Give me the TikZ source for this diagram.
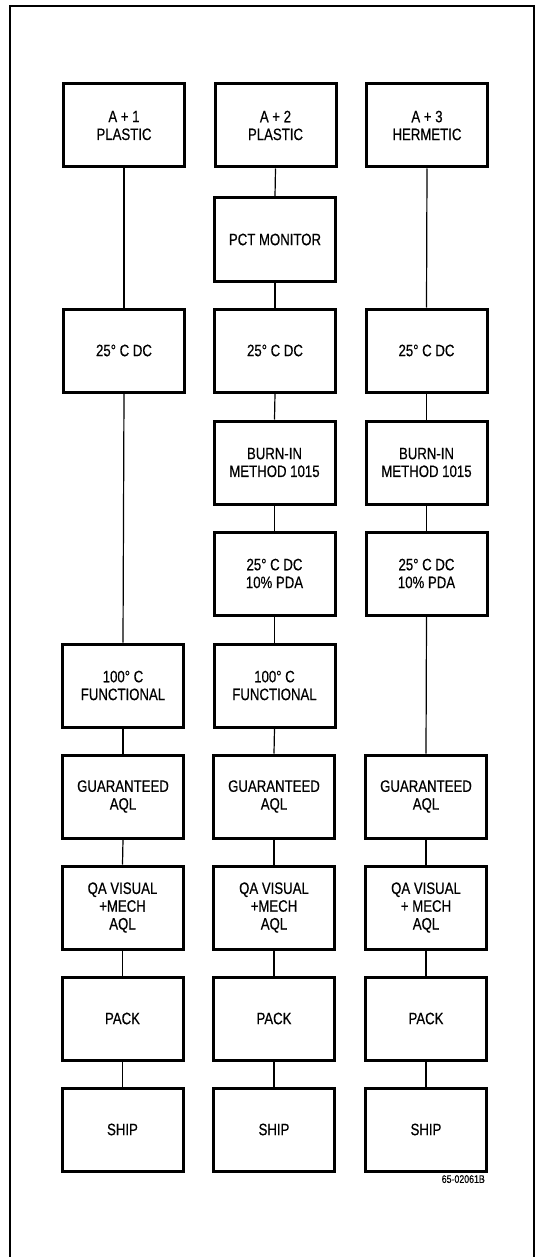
\documentclass[tikz,border=0pt]{standalone}
\usepackage{fontspec}
\setmainfont{Liberation Sans}[FakeStretch=0.80,FakeBold=0.5]
\begin{document}
\begin{tikzpicture}[x=1pt,y=-1pt,
  box/.style={draw,line width=3pt,minimum width=121pt,minimum height=83pt,inner sep=0pt,
    anchor=north,align=center,font=\fontsize{16.5}{17.8}\selectfont},
  link/.style={line width=1.2pt}]
\useasboundingbox (0,0) rectangle (538,1257);
\draw[line width=1.6pt] (10,1257) -- (10,6) -- (534,6) -- (534,1257);
% column 1
\node[box] (a1) at (124,82.5) {A + 1\\PLASTIC};
\node[box] (a3) at (124,307.5) {25° C DC};
\node[box] (a6) at (123,642.5) {100° C\\FUNCTIONAL};
\node[box] (a7) at (123,753.5) {GUARANTEED\\AQL};
\node[box] (a8) at (122.5,864.5) {QA VISUAL\\+MECH\\AQL};
\node[box] (a9) at (122.5,975.5) {PACK};
\node[box] (a10) at (122.5,1086.5) {SHIP};
% column 2
\node[box] (b1) at (275.5,82.5) {A + 2\\PLASTIC};
\node[box] (b2) at (275,196.5) {PCT MONITOR};
\node[box] (b3) at (275,307.5) {25° C DC};
\node[box] (b4) at (274.5,419.5) {BURN-IN\\METHOD 1015};
\node[box] (b5) at (274.5,530.5) {25° C DC\\10\% PDA};
\node[box] (b6) at (274.5,642.5) {100° C\\FUNCTIONAL};
\node[box] (b7) at (274,753.5) {GUARANTEED\\AQL};
\node[box] (b8) at (274,864.5) {QA VISUAL\\+MECH\\AQL};
\node[box] (b9) at (274,975.5) {PACK};
\node[box] (b10) at (274,1086.5) {SHIP};
% column 3
\node[box] (c1) at (427,82.5) {A + 3\\HERMETIC};
\node[box] (c3) at (426.5,307.5) {25° C DC};
\node[box] (c4) at (426.5,419.5) {BURN-IN\\METHOD 1015};
\node[box] (c5) at (426.5,530.5) {25° C DC\\10\% PDA};
\node[box] (c7) at (426,753.5) {GUARANTEED\\AQL};
\node[box] (c8) at (426,864.5) {QA VISUAL\\+ MECH\\AQL};
\node[box] (c9) at (426,975.5) {PACK};
\node[box] (c10) at (426,1086.5) {SHIP};
% connectors
\foreach \u/\v in {a1/a3,a3/a6,a6/a7,a7/a8,a8/a9,a9/a10,
  b1/b2,b2/b3,b3/b4,b4/b5,b5/b6,b6/b7,b7/b8,b8/b9,b9/b10,
  c1/c3,c3/c4,c4/c5,c5/c7,c7/c8,c8/c9,c9/c10}
  \draw[link] (\u.south) -- (\v.north);
\node[anchor=north east,inner sep=0pt,font=\fontsize{11}{12}\selectfont] (code) at (485,1175) {65-02061B};
\end{tikzpicture}
\end{document}
